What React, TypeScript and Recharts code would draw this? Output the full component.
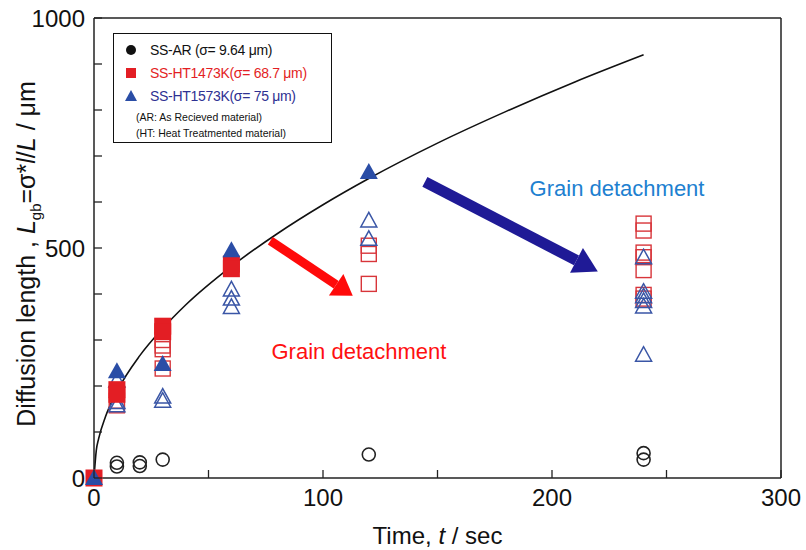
import { ComposedChart, Line, Scatter, XAxis, YAxis, ReferenceLine, ReferenceDot, Label } from 'recharts'

// fit curve
const curveT = [0, 1, 2, 5, 10, 20, 30, 40, 60, 80, 100, 120, 150, 180, 210, 240]
const curveL = [0, 60, 85, 133, 188, 266, 325, 376, 460, 531, 594, 651, 728, 797, 861, 920]

// SS-AR, open circles
const arT = [10, 10, 20, 20, 30, 120, 240, 240]
const arL = [25, 33, 26, 34, 40, 51, 40, 54]

// SS-HT1473K squares
const sqFilledT = [0, 10, 10, 30, 30, 60, 60]
const sqFilledL = [0, 192, 182, 330, 318, 465, 455]
const sqOpenT = [10, 10, 30, 30, 30, 30, 120, 120, 120, 240, 240, 240, 240, 240, 240, 240]
const sqOpenL = [168, 158, 300, 288, 280, 238, 505, 487, 422, 553, 538, 490, 480, 452, 398, 390]

// SS-HT1573K triangles
const triFilledT = [0, 10, 30, 60, 120]
const triFilledL = [0, 232, 248, 495, 665]
const triOpenT = [10, 10, 10, 30, 30, 60, 60, 60, 120, 120, 240, 240, 240, 240, 240, 240]
const triOpenL = [212, 165, 158, 177, 168, 410, 390, 372, 560, 520, 480, 405, 395, 385, 373, 268]

const xTicks = [0, 50, 100, 150, 200, 250, 300]
const xLabels = [0, 100, 200, 300]
const yTicks = [0, 100, 200, 300, 400, 500, 600, 700, 800, 900, 1000]
const yLabels = [0, 500, 1000]

// annotations
const redArrow = [{ x: 77, y: 516 }, { x: 113, y: 396 }]
const blueArrow = [{ x: 144.5, y: 644 }, { x: 220, y: 449 }]
const redNote = { t: 115.7, L: 275, text: 'Grain detachment' }
const blueNote = { t: 228.4, L: 631, text: 'Grain detachment' }

const zip = (ts: number[], ls: number[]) => ts.map((t, i) => ({ t, L: ls[i] }))

const RED = '#e31e24'
const RED_OPEN = '#d8353a'
const BLUE = '#2a4da6'
const BLUE_OPEN = '#3a56a6'
const FONT = '"Liberation Sans", Arial, sans-serif'
const M = 8
const TL = 8

function AxisTick(props: any) {
  const { x, y, payload, side } = props
  const v = payload.value
  const style = { fontFamily: FONT, fontSize: 24, fill: '#111' }
  if (side === 'left') {
    const ax = x + M
    return (
      <g>
        <line x1={ax} x2={ax + TL} y1={y} y2={y} stroke="#222" strokeWidth={1.3} />
        {yLabels.includes(v) && <text x={ax - 9} y={y} dy="0.36em" textAnchor="end" {...style}>{v}</text>}
      </g>
    )
  }
  if (side === 'right') {
    const ax = x - M
    return <line x1={ax} x2={ax - TL} y1={y} y2={y} stroke="#222" strokeWidth={1.3} />
  }
  if (side === 'top') {
    const ay = y + M
    return <line x1={x} x2={x} y1={ay} y2={ay + TL} stroke="#222" strokeWidth={1.3} />
  }
  const ay = y - M
  return (
    <g>
      <line x1={x} x2={x} y1={ay} y2={ay - TL} stroke="#222" strokeWidth={1.3} />
      {xLabels.includes(v) && <text x={x} y={ay + 28} textAnchor="middle" {...style}>{v}</text>}
    </g>
  )
}

const Circle = ({ cx, cy }: any) => <circle cx={cx} cy={cy} r={6.5} fill="none" stroke="#222" strokeWidth={1.6} />
const SquareFilled = ({ cx, cy }: any) => <rect x={cx - 8.5} y={cy - 8.5} width={17} height={17} fill={RED} />
const SquareOpen = ({ cx, cy }: any) => <rect x={cx - 7.5} y={cy - 7.5} width={15} height={15} fill="none" stroke={RED_OPEN} strokeWidth={1.4} />
const TriFilled = ({ cx, cy }: any) => <polygon points={`${cx},${cy - 9} ${cx - 9},${cy + 7} ${cx + 9},${cy + 7}`} fill={BLUE} />
const TriOpen = ({ cx, cy }: any) => <polygon points={`${cx},${cy - 8} ${cx - 8},${cy + 6.5} ${cx + 8},${cy + 6.5}`} fill="none" stroke={BLUE_OPEN} strokeWidth={1.5} />

function arrowShape(color: string, w: number, headW: number, headL: number) {
  return (p: any) => {
    const { x1, y1, x2, y2 } = p
    const dx = x2 - x1, dy = y2 - y1
    const len = Math.sqrt(dx * dx + dy * dy)
    const ux = dx / len, uy = dy / len
    const bx = x2 - ux * headL, by = y2 - uy * headL
    const nx = -uy, ny = ux
    return (
      <g>
        <line x1={x1} y1={y1} x2={bx} y2={by} stroke={color} strokeWidth={w} />
        <polygon points={`${x2},${y2} ${bx + nx * headW / 2},${by + ny * headW / 2} ${bx - nx * headW / 2},${by - ny * headW / 2}`} fill={color} />
      </g>
    )
  }
}

function noteShape(text: string, color: string) {
  return (p: any) => (
    <text x={p.cx} y={p.cy} dy="0.36em" textAnchor="middle" fontFamily={FONT} fontSize={22} fill={color}>{text}</text>
  )
}

function LegendBox() {
  const row = (top: number, color: string, sym: any, text: string) => (
    <div style={{ position: 'absolute', left: 0, top, height: 20, display: 'flex', alignItems: 'center' }}>
      <svg width={36} height={20} style={{ display: 'block' }}>{sym}</svg>
      <span style={{ color, fontSize: 14, letterSpacing: -0.3, whiteSpace: 'nowrap' }}>{text}</span>
    </div>
  )
  return (
    <div style={{ position: 'absolute', left: 113, top: 33, width: 219, height: 110, border: '1px solid #111', background: '#fff', fontFamily: FONT, boxSizing: 'border-box' }}>
      {row(6, '#111', <circle cx={17} cy={10} r={5} fill="#111" />, 'SS-AR (σ= 9.64 μm)')}
      {row(29, RED, <rect x={12} y={5} width={10} height={10} fill={RED} />, 'SS-HT1473K(σ= 68.7 μm)')}
      {row(52, '#2e3192', <polygon points="17,4 11,15 23,15" fill={BLUE} />, 'SS-HT1573K(σ= 75 μm)')}
      <div style={{ position: 'absolute', left: 22, top: 77, fontSize: 10.5, color: '#111', whiteSpace: 'nowrap' }}>(AR: As Recieved material)</div>
      <div style={{ position: 'absolute', left: 22, top: 93, fontSize: 10.5, color: '#111', whiteSpace: 'nowrap' }}>(HT: Heat Treatmented material)</div>
    </div>
  )
}

const XTitle = ({ viewBox }: any) => (
  <text x={viewBox.x + viewBox.width / 2} y={viewBox.y + 66} textAnchor="middle" fontFamily={FONT} fontSize={24} fill="#111">
    Time, <tspan fontStyle="italic">t</tspan> / sec
  </text>
)

const YTitle = () => (
  <text x={0} y={0} transform="translate(35, 254) rotate(-90)" textAnchor="middle" fontFamily={FONT} fontSize={25} fill="#111">
    Diffusion length , <tspan fontStyle="italic">L</tspan><tspan fontSize={15} dy={6}>gb</tspan><tspan dy={-6}>=σ*</tspan><tspan fontStyle="italic">l</tspan>/<tspan fontStyle="italic">L</tspan> / μm
  </text>
)

export default function App() {
  return (
    <div style={{ position: 'absolute', left: 0, top: 0, width: 806, height: 550, background: '#fff' }}>
      <ComposedChart width={806} height={550} margin={{ top: 17, right: 24, bottom: 22, left: 0 }}>
        <XAxis dataKey="t" type="number" domain={[0, 300]} ticks={xTicks} interval={0} tickSize={0} tickMargin={M}
          axisLine={{ stroke: '#222', strokeWidth: 1.5 }} tickLine={false} height={50}
          tick={(p: any) => <AxisTick {...p} side="bottom" />}>
          <Label content={XTitle} />
        </XAxis>
        <XAxis xAxisId="top" orientation="top" type="number" domain={[0, 300]} ticks={xTicks} interval={0} tickSize={0} tickMargin={M}
          axisLine={{ stroke: '#222', strokeWidth: 1.5 }} tickLine={false} height={1}
          tick={(p: any) => <AxisTick {...p} side="top" />} />
        <YAxis dataKey="L" type="number" domain={[0, 1000]} ticks={yTicks} interval={0} tickSize={0} tickMargin={M}
          axisLine={{ stroke: '#222', strokeWidth: 1.5 }} tickLine={false} width={94}
          tick={(p: any) => <AxisTick {...p} side="left" />}>
          <Label content={YTitle} />
        </YAxis>
        <YAxis yAxisId="right" orientation="right" type="number" domain={[0, 1000]} ticks={yTicks} interval={0} tickSize={0} tickMargin={M}
          axisLine={{ stroke: '#222', strokeWidth: 1.5 }} tickLine={false} width={1}
          tick={(p: any) => <AxisTick {...p} side="right" />} />

        <Line data={zip(curveT, curveL)} dataKey="L" type="monotone" stroke="#111" strokeWidth={1.6} dot={false} isAnimationActive={false} />
        <Scatter data={zip(arT, arL)} dataKey="L" shape={Circle} isAnimationActive={false} />
        <Scatter data={zip(sqOpenT, sqOpenL)} dataKey="L" shape={SquareOpen} isAnimationActive={false} />
        <Scatter data={zip(triOpenT, triOpenL)} dataKey="L" shape={TriOpen} isAnimationActive={false} />
        <Scatter data={zip(sqFilledT, sqFilledL)} dataKey="L" shape={SquareFilled} isAnimationActive={false} />
        <Scatter data={zip(triFilledT, triFilledL)} dataKey="L" shape={TriFilled} isAnimationActive={false} />

        <ReferenceLine segment={redArrow} ifOverflow="visible" shape={arrowShape('#ff0a0a', 9, 26, 20)} />
        <ReferenceLine segment={blueArrow} ifOverflow="visible" shape={arrowShape('#1f1a96', 11, 28, 24)} />
        <ReferenceDot x={redNote.t} y={redNote.L} ifOverflow="visible" shape={noteShape(redNote.text, '#ff1010')} />
        <ReferenceDot x={blueNote.t} y={blueNote.L} ifOverflow="visible" shape={noteShape(blueNote.text, '#2080d0')} />
      </ComposedChart>
      <LegendBox />
    </div>
  )
}
